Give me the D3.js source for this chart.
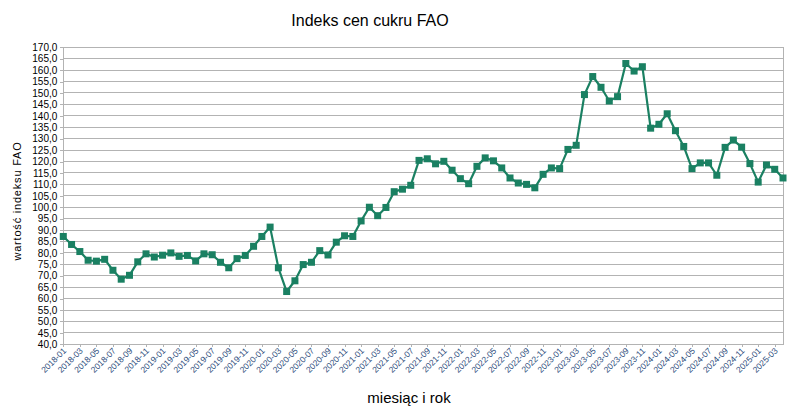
<!DOCTYPE html>
<html><head><meta charset="utf-8">
<script src="https://cdn.jsdelivr.net/npm/d3@7"></script>
<style>body{margin:0;background:#fff;}svg{display:block;font-family:"Liberation Sans",Arial,sans-serif;}</style>
</head><body>
<svg id="c" width="803" height="410"></svg>
<script>
const months = [];
for (let y = 2018; y <= 2025; y++) for (let m = 1; m <= 12; m++) {
  if (y === 2025 && m > 4) break;
  months.push(y + "-" + String(m).padStart(2, "0"));
}
const values = [
  87.2, 83.7, 80.6, 76.8, 76.4, 77.2, 72.4, 68.5, 70.2, 76.1, 79.6, 78.2,
  79.0, 80.0, 78.5, 78.9, 76.5, 79.6, 79.2, 75.9, 73.5, 77.5, 78.9, 82.9,
  87.2, 91.3, 73.5, 63.1, 67.8, 74.9, 75.9, 81.0, 79.1, 84.7, 87.5, 87.2,
  94.0, 100.0, 96.3, 99.9, 106.8, 107.9, 109.6, 120.5, 121.2, 119.0, 120.1, 116.2,
  112.5, 110.3, 117.9, 121.6, 120.3, 117.2, 112.8, 110.6, 110.0, 108.5, 114.4, 117.2,
  116.9, 125.3, 127.1, 149.3, 157.2, 152.5, 146.5, 148.4, 162.9, 159.6, 161.5, 134.6,
  136.3, 140.9, 133.5, 126.6, 116.9, 119.4, 119.4, 114.0, 126.2, 129.4, 126.3, 119.1,
  111.0, 118.5, 116.6, 112.8
];
const yTicks = d3.range(40, 170.001, 5);
const xTickLabels = months.filter((d, i) => i % 2 === 0);

const svg = d3.select("#c");
const L = 63.3, R = 783, T = 47.3, B = 344.3;
const x = d3.scalePoint().domain(months).range([L, R]);
const y = d3.scaleLinear().domain([40, 170]).range([B, T]);
const fmt = v => v.toFixed(1).replace(".", ",");

// gridlines
svg.append("g").selectAll("line").data(yTicks).join("line")
  .attr("x1", L).attr("x2", R).attr("y1", d => y(d)).attr("y2", d => y(d))
  .attr("stroke", "#b3b3b3").attr("stroke-width", 1).attr("shape-rendering", "crispEdges");
// right border
svg.append("line").attr("x1", R).attr("x2", R).attr("y1", T).attr("y2", B)
  .attr("stroke", "#b3b3b3").attr("shape-rendering", "crispEdges");

// y axis
const ya = svg.append("g").attr("transform", `translate(${L},0)`)
  .call(d3.axisLeft(y).tickValues(yTicks).tickFormat(fmt).tickSize(3).tickPadding(3));
ya.select(".domain").attr("stroke", "#b3b3b3").attr("shape-rendering", "crispEdges");
ya.selectAll(".tick line").attr("stroke", "#b3b3b3").attr("shape-rendering", "crispEdges");
ya.selectAll("text").attr("font-size", "10px").attr("fill", "#000").attr("font-family", "Liberation Sans, Arial, sans-serif");

// x axis
const xa = svg.append("g").attr("transform", `translate(0,${B})`)
  .call(d3.axisBottom(x).tickValues(xTickLabels).tickSize(3).tickSizeOuter(0));
xa.select(".domain").attr("stroke", "#b3b3b3").attr("shape-rendering", "crispEdges");
xa.selectAll(".tick line").attr("stroke", "#b3b3b3").attr("shape-rendering", "crispEdges");
xa.selectAll("text").attr("font-size", "8.5px").attr("fill", "#2a4a7a")
  .attr("font-family", "Liberation Sans, Arial, sans-serif")
  .attr("text-anchor", "end").attr("dy", null).attr("y", 0)
  .attr("transform", "translate(3,7) rotate(-45)");

// line
const line = d3.line().x((d, i) => x(months[i])).y(d => y(d));
svg.append("path").datum(values).attr("d", line)
  .attr("fill", "none").attr("stroke", "#1a8062").attr("stroke-width", 2.2).attr("stroke-linejoin", "round");
svg.append("g").selectAll("rect").data(values).join("rect")
  .attr("x", (d, i) => x(months[i]) - 3.5).attr("y", d => y(d) - 3.5)
  .attr("width", 7).attr("height", 7).attr("fill", "#1a8062");

// titles
svg.append("text").attr("x", 370).attr("y", 26).attr("text-anchor", "middle")
  .attr("font-size", "16px").attr("fill", "#000").text("Indeks cen cukru FAO");
svg.append("text").attr("x", 409).attr("y", 403).attr("text-anchor", "middle")
  .attr("font-size", "15px").attr("fill", "#000").text("miesiąc i rok");
svg.append("text").attr("transform", "translate(21,201) rotate(-90)").attr("text-anchor", "middle")
  .attr("font-size", "11px").attr("letter-spacing", "0.8px").attr("fill", "#000").text("wartość indeksu FAO");
</script>
</body></html>
